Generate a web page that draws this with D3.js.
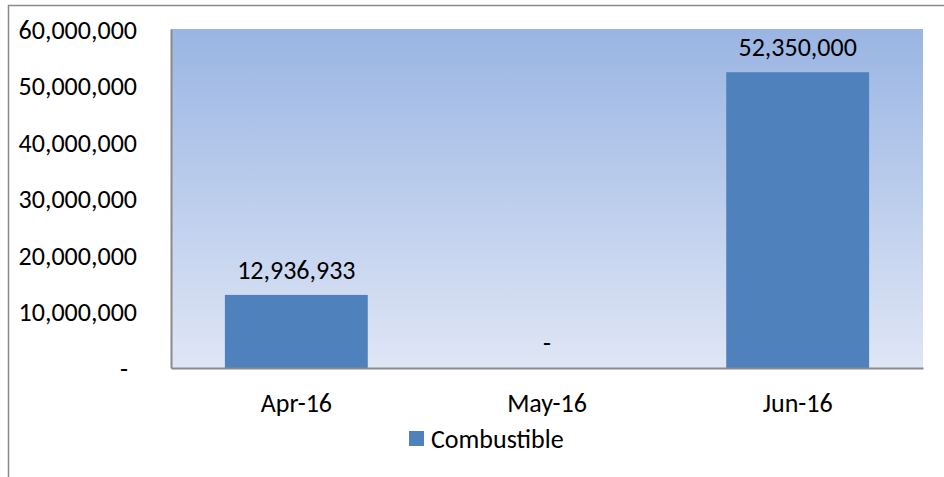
<!DOCTYPE html>
<html>
<head>
<meta charset="utf-8">
<title>Combustible</title>
<script src="https://d3js.org/d3.v7.min.js"></script>
<style>
  body { margin: 0; background: #fff; }
  text { font-family: Carlito, Calibri, Lato, "Open Sans", sans-serif; fill: #000; }
</style>
</head>
<body>
<div id="chart"></div>
<script>
// data
var months = ["Apr-16", "May-16", "Jun-16"];
var combustible = [12936933, 0, 52350000];
var yTicks = [0, 10000000, 20000000, 30000000, 40000000, 50000000, 60000000];
var seriesName = "Combustible";

var W = 944, H = 477;
var plot = {left: 171, top: 29, right: 923, bottom: 368};
var fontSize = "26px";

var svg = d3.select("#chart").append("svg")
    .attr("width", W)
    .attr("height", H);

// outer chart border
svg.append("rect")
    .attr("x", 8.5).attr("y", 5.5)
    .attr("width", W).attr("height", H)
    .attr("fill", "none")
    .attr("stroke", "#8a8a8a")
    .attr("stroke-width", 1.5);

// plot area gradient
var grad = svg.append("defs").append("linearGradient")
    .attr("id", "bg").attr("x1", 0).attr("y1", 0).attr("x2", 0).attr("y2", 1);
grad.append("stop").attr("offset", "0%").attr("stop-color", "#9ab5e3");
grad.append("stop").attr("offset", "100%").attr("stop-color", "#dfe6f5");

svg.append("rect")
    .attr("x", plot.left).attr("y", plot.top)
    .attr("width", plot.right - plot.left)
    .attr("height", plot.bottom - plot.top)
    .attr("fill", "url(#bg)");

var x = d3.scaleBand()
    .domain(months)
    .range([plot.left, plot.right])
    .paddingInner(0.43)
    .paddingOuter(0.215);

var y = d3.scaleLinear()
    .domain([0, 60000000])
    .range([plot.bottom, plot.top]);

var fmt = d3.format(",");
var label = function(v) { return v === 0 ? "-" : fmt(v); };

// bars
svg.append("g").selectAll("rect")
  .data(combustible)
  .enter()
  .append("rect")
    .attr("x", function(d, i) { return x(months[i]); })
    .attr("y", function(d) { return y(d); })
    .attr("width", x.bandwidth())
    .attr("height", function(d) { return plot.bottom - y(d); })
    .attr("fill", "#4f81bd");

// data labels
svg.append("g").selectAll("text")
  .data(combustible)
  .enter()
  .append("text")
    .attr("x", function(d, i) { return x(months[i]) + x.bandwidth() / 2; })
    .attr("y", function(d) { return y(d) - 25; })
    .attr("text-anchor", "middle")
    .attr("dominant-baseline", "central")
    .style("font-size", fontSize)
    .text(function(d) { return label(d); });

// y axis
var yAxis = svg.append("g")
    .attr("transform", "translate(" + plot.left + ",0)")
    .call(d3.axisLeft(y).tickValues(yTicks).tickSize(0).tickPadding(34).tickFormat(label));
yAxis.select(".domain").attr("stroke", "#8a8a8a").attr("stroke-width", 2);
yAxis.selectAll("text")
    .style("font-size", fontSize)
    .attr("fill", "#000")
    .attr("dy", null)
    .attr("dominant-baseline", "central");
yAxis.selectAll(".tick").filter(function(d) { return d === 0; }).select("text")
    .attr("dx", -9);

// x axis
var xAxis = svg.append("g")
    .attr("transform", "translate(0," + plot.bottom + ")")
    .call(d3.axisBottom(x).tickSize(0).tickPadding(35));
xAxis.select(".domain").attr("stroke", "#8a8a8a").attr("stroke-width", 2);
xAxis.selectAll("text")
    .style("font-size", fontSize)
    .attr("fill", "#000")
    .attr("dy", null)
    .attr("dominant-baseline", "central");

// legend
var legend = svg.append("g").attr("transform", "translate(409,431)");
legend.append("rect")
    .attr("width", 15).attr("height", 15)
    .attr("fill", "#4f81bd");
legend.append("text")
    .attr("x", 22).attr("y", 7.5)
    .attr("dominant-baseline", "central")
    .style("font-size", fontSize)
    .text(seriesName);
</script>
</body>
</html>
